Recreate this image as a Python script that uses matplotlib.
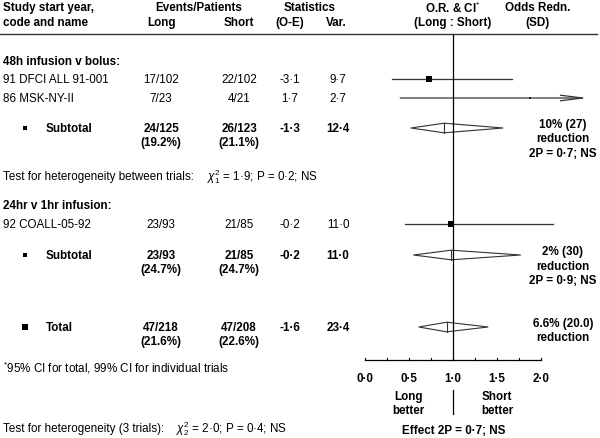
import matplotlib
matplotlib.use('Agg')
import matplotlib.pyplot as plt
from matplotlib.patches import Polygon

plt.rcParams['font.family'] = ['Liberation Sans', 'DejaVu Sans']
plt.rcParams['mathtext.fontset'] = 'custom'
plt.rcParams['mathtext.it'] = 'Liberation Sans:italic'
plt.rcParams['mathtext.rm'] = 'Liberation Sans'

# individual trials
trials = ['91 DFCI ALL 91-001', '86 MSK-NY-II', '92 COALL-05-92']
trial_long = ['17/102', '7/23', '23/93']
trial_short = ['22/102', '4/21', '21/85']
trial_oe = ['-3·1', '1·7', '-0·2']
trial_var = ['9·7', '2·7', '11·0']
trial_or = [0.73, 1.88, 0.98]
trial_lo = [0.31, 0.40, 0.45]
trial_hi = [1.67, 8.9, 2.14]
trial_size = [4.0, 2.0, 4.0]

# subtotals and total
sub_names = ['Subtotal', 'Subtotal', 'Total']
sub_long = ['24/125', '23/93', '47/218']
sub_long_pct = ['(19.2%)', '(24.7%)', '(21.6%)']
sub_short = ['26/123', '21/85', '47/208']
sub_short_pct = ['(21.1%)', '(24.7%)', '(22.6%)']
sub_oe = ['-1·3', '-0·2', '-1·6']
sub_var = ['12·4', '11·0', '23·4']
sub_or = [0.90, 0.98, 0.93]
sub_lo = [0.52, 0.55, 0.61]
sub_hi = [1.57, 1.77, 1.40]
sub_redn = [['10% (27)', 'reduction', '2P = 0·7; NS'],
            ['2% (30)', 'reduction', '2P = 0·9; NS'],
            ['6.6% (20.0)', 'reduction']]

ticks = [0.0, 0.5, 1.0, 1.5, 2.0]
tick_labels = ['0·0', '0·5', '1·0', '1·5', '2·0']

W, H = 600, 439
fig = plt.figure(figsize=(6, 4.39), dpi=100)
fs = 8.4


def t(x, y, s, **kw):
    kw.setdefault('fontsize', fs)
    kw.setdefault('va', 'center')
    fig.text(x / W, 1 - y / H, s, **kw)


# forest axes: x in odds ratio, y in pixel rows from top
x0, x2 = 365, 541
ax = fig.add_axes([x0 / W, 0, (x2 - x0) / W, 1])
ax.set_xlim(0, 2)
ax.set_ylim(H, 0)
ax.axis('off')

# header
t(3, 8, 'Study start year,', weight='bold')
t(3, 23, 'code and name', weight='bold')
t(199, 8, 'Events/Patients', weight='bold', ha='center')
t(161, 23, 'Long', weight='bold', ha='center')
t(239, 23, 'Short', weight='bold', ha='center')
t(310, 8, 'Statistics', weight='bold', ha='center')
t(290, 23, '(O-E)', weight='bold', ha='center')
t(336, 23, 'Var.', weight='bold', ha='center')
t(453, 8, 'O.R. & CI$^{*}$', weight='bold', ha='center')
t(453, 23, '(Long : Short)', weight='bold', ha='center')
t(538, 8, 'Odds Redn.', weight='bold', ha='center')
t(538, 23, '(SD)', weight='bold', ha='center')
fig.add_artist(plt.Line2D([0, 597 / W], [1 - 35 / H] * 2, color='#333333', lw=1.0))

t(3, 62, '48h infusion v bolus:', weight='bold')
t(3, 206, '24hr v 1hr infusion:', weight='bold')

lc = '#333333'
trial_rows = [80, 99, 225]
for i, y in enumerate(trial_rows):
    t(3, y, trials[i])
    t(161, y, trial_long[i], ha='center')
    t(239, y, trial_short[i], ha='center')
    t(290, y, trial_oe[i], ha='center')
    t(338, y, trial_var[i], ha='center')
    if trial_hi[i] > 2.3:
        ax.annotate('', xy=(2.53, y), xytext=(trial_lo[i], y),
                    arrowprops=dict(arrowstyle='->,head_length=1.6,head_width=0.2',
                                    color=lc, lw=0.9, shrinkA=0, shrinkB=0),
                    annotation_clip=False)
    else:
        ax.plot([trial_lo[i], trial_hi[i]], [y, y], color=lc, lw=0.9, clip_on=False)
    ax.plot(trial_or[i], y, 's', color='black', ms=trial_size[i], mew=0, clip_on=False)

sub_rows = [129, 256, 328]
sub_mark = [3.0, 3.0, 4.0]
for i, y in enumerate(sub_rows):
    ax.figure.add_artist(plt.Line2D([25 / W], [1 - y / H], marker='s', ms=sub_mark[i],
                                    color='black', mew=0))
    t(46, y, sub_names[i], weight='bold')
    t(161, y, sub_long[i], weight='bold', ha='center')
    t(161, y + 14, sub_long_pct[i], weight='bold', ha='center')
    t(239, y, sub_short[i], weight='bold', ha='center')
    t(239, y + 14, sub_short_pct[i], weight='bold', ha='center')
    t(290, y, sub_oe[i], weight='bold', ha='center')
    t(338, y, sub_var[i], weight='bold', ha='center')
    hh = 4.8
    dia = Polygon([(sub_lo[i], y), (sub_or[i], y - hh), (sub_hi[i], y), (sub_or[i], y + hh)],
                  closed=True, facecolor='white', edgecolor=lc, lw=0.8, clip_on=False, zorder=3)
    ax.add_patch(dia)
    ax.plot([sub_or[i]] * 2, [y - hh, y + hh], color=lc, lw=0.8, clip_on=False, zorder=4)
    for k, line in enumerate(sub_redn[i]):
        t(563, y - 4 + 14.5 * k, line, weight='bold', ha='center')

t(3, 177, 'Test for heterogeneity between trials:')
t(207, 177, r'$\chi^2_1$ = 1·9; P = 0·2; NS')
t(3, 368, '$^{*}$95% CI for total, 99% CI for individual trials')
t(3, 429, 'Test for heterogeneity (3 trials):')
t(176, 429, r'$\chi^2_2$ = 2·0; P = 0·4; NS')

# line of no effect
ax.plot([1, 1], [35, 361], color='black', lw=0.9, zorder=5, clip_on=False)
ax.plot([1, 1], [391, 415], color='black', lw=0.9, clip_on=False)

# x scale
ax_line_y = 361
ax.plot([0, 2], [ax_line_y, ax_line_y], color='black', lw=0.9, clip_on=False)
for k in range(9):
    xv = k * 0.25
    ax.plot([xv, xv], [ax_line_y, ax_line_y - 2.5], color='black', lw=0.8, clip_on=False)
for xv, lab in zip(ticks, tick_labels):
    ax.text(xv, 379, lab, ha='center', va='center', fontsize=fs, weight='bold')

t(408, 397, 'Long', weight='bold', ha='center')
t(408, 411, 'better', weight='bold', ha='center')
t(497, 397, 'Short', weight='bold', ha='center')
t(497, 411, 'better', weight='bold', ha='center')
t(454, 431, 'Effect 2P = 0·7; NS', weight='bold', ha='center')

fig.savefig('out.png', dpi=100)
